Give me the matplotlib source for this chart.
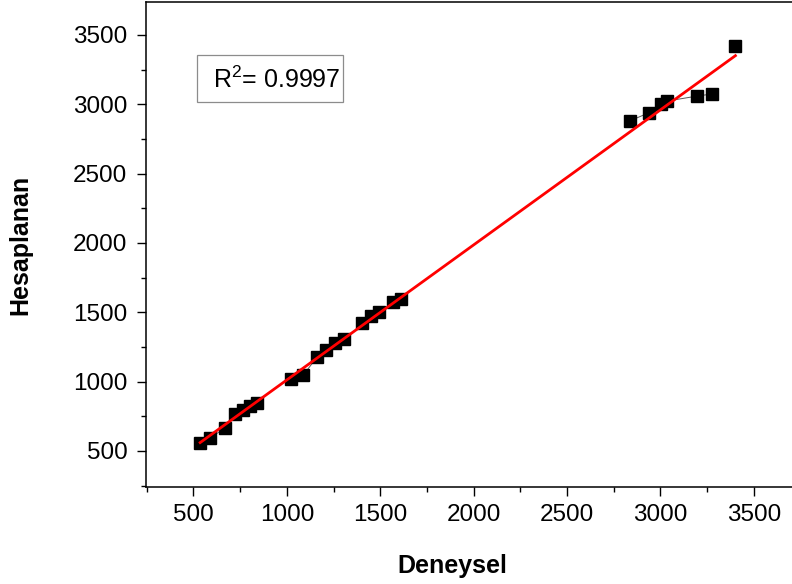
import numpy as np
import matplotlib
matplotlib.use("Agg")
import matplotlib.pyplot as plt
from matplotlib.ticker import MultipleLocator
from matplotlib.patches import Rectangle

plt.rcParams['font.family'] = ['Liberation Sans', 'DejaVu Sans']
plt.rcParams['mathtext.fontset'] = 'custom'
plt.rcParams['mathtext.rm'] = 'Liberation Sans'

# deneysel (x) ve hesaplanan (y) degerler
deneysel = [536, 589, 670, 723, 766, 804, 841,
            1024, 1088, 1163, 1211, 1259, 1307,
            1404, 1452, 1495, 1570, 1613,
            2836, 2937, 3001, 3038, 3199, 3279, 3402]
hesaplanan = [558, 594, 666, 767, 796, 825, 846,
              1019, 1048, 1178, 1228, 1279, 1308,
              1423, 1474, 1502, 1575, 1596,
              2880, 2938, 3003, 3024, 3060, 3075, 3421]
# ince cizgiyle birlesen nokta gruplari (indeks araliklari)
gruplar = [(0, 7), (7, 13), (13, 18), (18, 24)]
r2_text = "R$^2$= 0.9997"

x = np.array(deneysel, dtype=float)
y = np.array(hesaplanan, dtype=float)

# lineer fit
m, b = np.polyfit(x, y, 1)
x_fit = np.linspace(x.min(), x.max(), 100)
y_fit = m * x_fit + b

fig = plt.figure(figsize=(7.92, 5.84), dpi=100)
ax = fig.add_axes([146/792, 97/584, 1 - 146/792, 485/584])

for i0, i1 in gruplar:
    ax.plot(x[i0:i1], y[i0:i1], color='0.35', lw=0.7, zorder=2)
ax.plot(x, y, 's', color='black', markersize=8.2, zorder=3)
ax.plot(x_fit, y_fit, color='red', lw=2.0, zorder=4)

ax.set_xlim(246, 3705)
ax.set_ylim(240, 3738)
ax.xaxis.set_major_locator(MultipleLocator(500))
ax.xaxis.set_minor_locator(MultipleLocator(250))
ax.yaxis.set_major_locator(MultipleLocator(500))
ax.yaxis.set_minor_locator(MultipleLocator(250))
ax.tick_params(which='major', direction='out', length=6.5, width=1.0,
               labelsize=17.5, pad=6)
ax.tick_params(which='minor', direction='out', length=3.8, width=1.0)
ax.tick_params(axis='y', which='major', pad=7)

for s in ['left', 'bottom', 'top']:
    ax.spines[s].set_linewidth(1.1)
ax.spines['right'].set_visible(False)

aw, ah = 646, 485
ax.set_xlabel('Deneysel', fontsize=18, fontweight='bold', va='center')
ax.xaxis.set_label_coords((452-146)/aw, (487-566)/ah)
ax.set_ylabel('Hesaplanan', fontsize=18, fontweight='bold', va='center')
ax.yaxis.set_label_coords((20-146)/aw, 0.5)

# R^2 kutusu
ax.add_patch(Rectangle(((197-146)/aw, (487-102)/ah), 146/aw, 47/ah,
                       transform=ax.transAxes, fc='white', ec='0.55',
                       lw=0.9, zorder=5))
ax.text((213-146)/aw, (487-80)/ah, r2_text, transform=ax.transAxes,
        fontsize=18, va='center', ha='left', zorder=6)

plt.savefig('out.png', dpi=100)
